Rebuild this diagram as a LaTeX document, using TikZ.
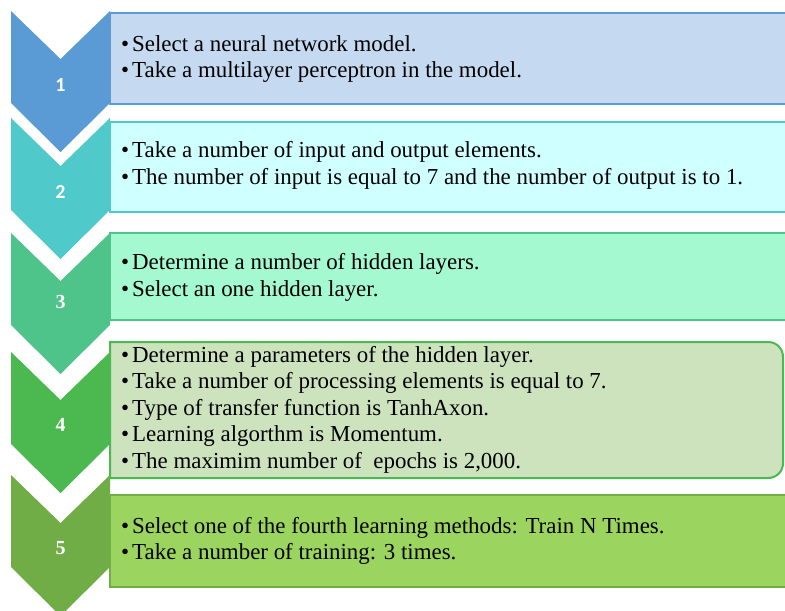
\documentclass[tikz,border=0pt]{standalone}
\usepackage{fontspec}
\setmainfont{Liberation Serif}
\newfontfamily\numsans{Carlito}
\definecolor{cA}{HTML}{5B9BD5}\definecolor{fA}{HTML}{C5D9F0}
\definecolor{cB}{HTML}{4FC9C9}\definecolor{fB}{HTML}{CFFFFF}
\definecolor{cC}{HTML}{4EC48B}\definecolor{fC}{HTML}{A5F9D0}
\definecolor{cD}{HTML}{4BB950}\definecolor{fD}{HTML}{CCE3BE}
\definecolor{cE}{HTML}{70AD47}\definecolor{fE}{HTML}{9BD45F}
\tikzset{
  boxline/.style={line width=2bp},
  txt/.style={anchor=base west, inner sep=0pt, font=\fontsize{23}{27}\selectfont, text=black},
  num/.style={text=white, font=\fontsize{20}{22}\selectfont\bfseries, inner sep=0pt},
}
\newcommand{\chev}[2]{%
  \fill[#2] (11,#1) -- (60.5,#1+48) -- (110,#1) -- (110,#1+92) -- (60.5,#1+141) -- (11,#1+92) -- cycle;}
\newcommand{\bul}{\textbullet\hspace{3bp}}
\begin{document}
\begin{tikzpicture}[x=1bp,y=-1bp]
\clip (0,0) rectangle (785,611);
\fill[white] (0,0) rectangle (785,611);
% chevrons
\chev{11}{cA}
\chev{118}{cB}
\chev{233}{cC}
\chev{352}{cD}
\chev{475}{cE}
% boxes
\draw[boxline, draw=cA, fill=fA] (110,13) rectangle (800,104);
\draw[boxline, draw=cB, fill=fB] (110,122) rectangle (800,212);
\draw[boxline, draw=cC, fill=fC] (110,233) rectangle (800,320);
\draw[boxline, draw=cD, fill=fD] (110,342) -- (768,342) .. controls (776.5,342) and (783,348.5) .. (783,357) -- (783,463) .. controls (783,471.5) and (776.5,478) .. (768,478) -- (110,478) -- cycle;
\draw[boxline, draw=cE, fill=fE] (110,495) rectangle (800,587);
% numbers
\node[num, font=\fontsize{20}{22}\selectfont\bfseries\numsans] (n1) at (60.5,85) {1};
\node[num, font=\fontsize{20}{22}\selectfont\bfseries\numsans] (n2) at (60.5,192) {2};
\node[num] (n3) at (60.5,302) {3};
\node[num] (n4) at (60.5,425) {4};
\node[num] (n5) at (60.5,548) {5};
% texts
\node[txt] (a1) at (121,52) {\bul Select a neural network model.};
\node[txt] (a2) at (121,78) {\bul Take a multilayer perceptron in the model.};
\node[txt] (b1) at (121,158) {\bul Take a number of input and output elements.};
\node[txt] (b2) at (121,185) {\bul The number of input is equal to 7 and the number of output is to 1.};
\node[txt] (c1) at (121,269) {\bul Determine a number of hidden layers.};
\node[txt] (c2) at (121,296) {\bul Select an one hidden layer.};
\node[txt] (d1) at (121,362) {\bul Determine a parameters of the hidden layer.};
\node[txt] (d2) at (121,388.5) {\bul Take a number of processing elements is equal to 7.};
\node[txt] (d3) at (121,415) {\bul Type of transfer function is TanhAxon.};
\node[txt] (d4) at (121,441.5) {\bul Learning algorthm is Momentum.};
\node[txt] (d5) at (121,468) {\bul The maximim number of\ \ epochs is 2,000.};
\node[txt] (e1) at (121,533) {\bul Select one of the fourth learning methods: Train N Times.};
\node[txt] (e2) at (121,559) {\bul Take a number of training: 3 times.};
\end{tikzpicture}
\end{document}
